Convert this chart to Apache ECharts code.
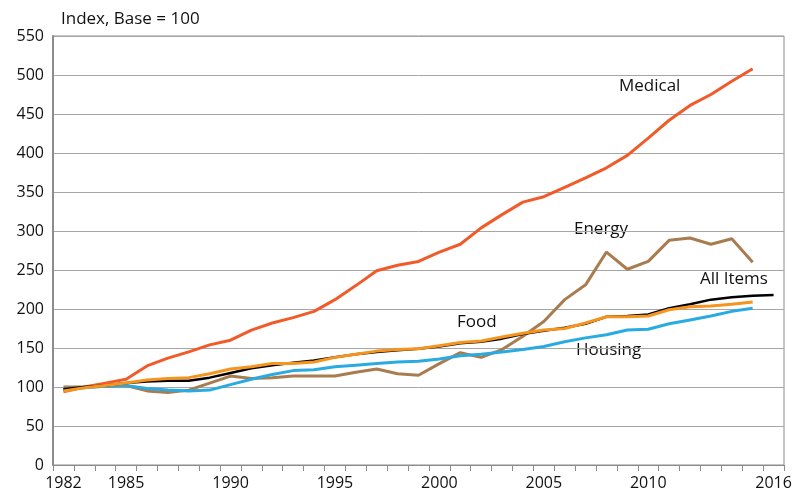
<!DOCTYPE html>
<html>
<head>
<meta charset="utf-8">
<script src="https://cdn.jsdelivr.net/npm/echarts@6/dist/echarts.min.js"></script>
<style>
  html, body { margin: 0; padding: 0; background: #fff; }
  #main { width: 807px; height: 494px; }
</style>
</head>
<body>
<div id="main"></div>
<script>
  var years = [];
  for (var y = 1982; y <= 2016; y++) years.push(String(y));
  var shownYears = ['1982', '1985', '1990', '1995', '2000', '2005', '2010', '2016'];

  var medical  = [94, 100, 105, 110, 127, 137, 145, 154, 160, 173, 182, 189, 197, 212, 230, 249, 256, 261, 273, 283, 304, 321, 337, 344, 356, 368, 381, 397, 419, 442, 461, 475, 492, 508];
  var energy   = [100, 100, 101, 102, 95, 93, 96, 105, 114, 111, 112, 114, 114, 114, 119, 123, 117, 115, 130, 144, 138, 148, 165, 184, 212, 231, 273, 251, 261, 288, 291, 283, 290, 260];
  var housing  = [97, 99, 101, 102, 98, 96, 95, 96, 103, 110, 116, 121, 122, 126, 128, 130, 132, 133, 136, 140, 142, 145, 148, 152, 158, 163, 167, 173, 174, 181, 186, 191, 197, 201];
  var allItems = [97, 100, 102, 105, 107, 108, 108, 112, 118, 124, 128, 131, 134, 138, 142, 145, 147, 149, 152, 156, 158, 162, 168, 172, 176, 181, 190, 191, 193, 201, 206, 212, 215, 217, 218];
  var food     = [95, 99, 102, 105, 109, 111, 112, 117, 123, 126, 130, 130, 132, 138, 142, 146, 148, 149, 153, 157, 159, 164, 169, 173, 175, 182, 190, 190, 191, 199, 203, 204, 206, 209];

  var font = 'Open Sans';
  var chart = echarts.init(document.getElementById('main'));

  function line(name, data, color, width) {
    return {
      name: name,
      type: 'line',
      data: data,
      symbol: 'none',
      lineStyle: { color: color, width: width },
      itemStyle: { color: color }
    };
  }

  function note(text, x, y) {
    return {
      type: 'text', left: x, top: y,
      style: { text: text, fill: '#111', font: '17px "' + font + '"' }
    };
  }

  chart.setOption({
    animation: false,
    grid: { left: 53, right: 23, top: 36, bottom: 29, show: true, borderColor: '#8c8c8c', borderWidth: 1 },
    xAxis: {
      type: 'category',
      data: years,
      boundaryGap: true,
      axisLine: { lineStyle: { color: '#8c8c8c', width: 1 } },
      axisTick: { show: true, length: 6, interval: 0, lineStyle: { color: '#8c8c8c' } },
      axisLabel: {
        interval: function (i, v) { return shownYears.indexOf(v) >= 0; },
        color: '#111', fontFamily: font, fontSize: 16, margin: 10
      }
    },
    yAxis: {
      type: 'value',
      min: 0, max: 550, interval: 50,
      axisLine: { show: true, lineStyle: { color: '#8c8c8c', width: 2 } },
      axisTick: { show: false },
      splitLine: { lineStyle: { color: '#a6a6a6', width: 1 } },
      axisLabel: { color: '#111', fontFamily: font, fontSize: 16, margin: 9 }
    },
    graphic: [
      note('Index, Base = 100', 61, 11),
      note('Medical', 619, 78),
      note('Energy', 574, 221),
      note('All Items', 700, 271),
      note('Food', 457, 314),
      note('Housing', 576, 342)
    ],
    series: [
      line('Medical', medical, '#f15a29', 3),
      line('Energy', energy, '#a97c50', 3),
      line('Housing', housing, '#29abe2', 3),
      line('All Items', allItems, '#000000', 2.5),
      line('Food', food, '#f7941d', 3)
    ]
  });
</script>
</body>
</html>
